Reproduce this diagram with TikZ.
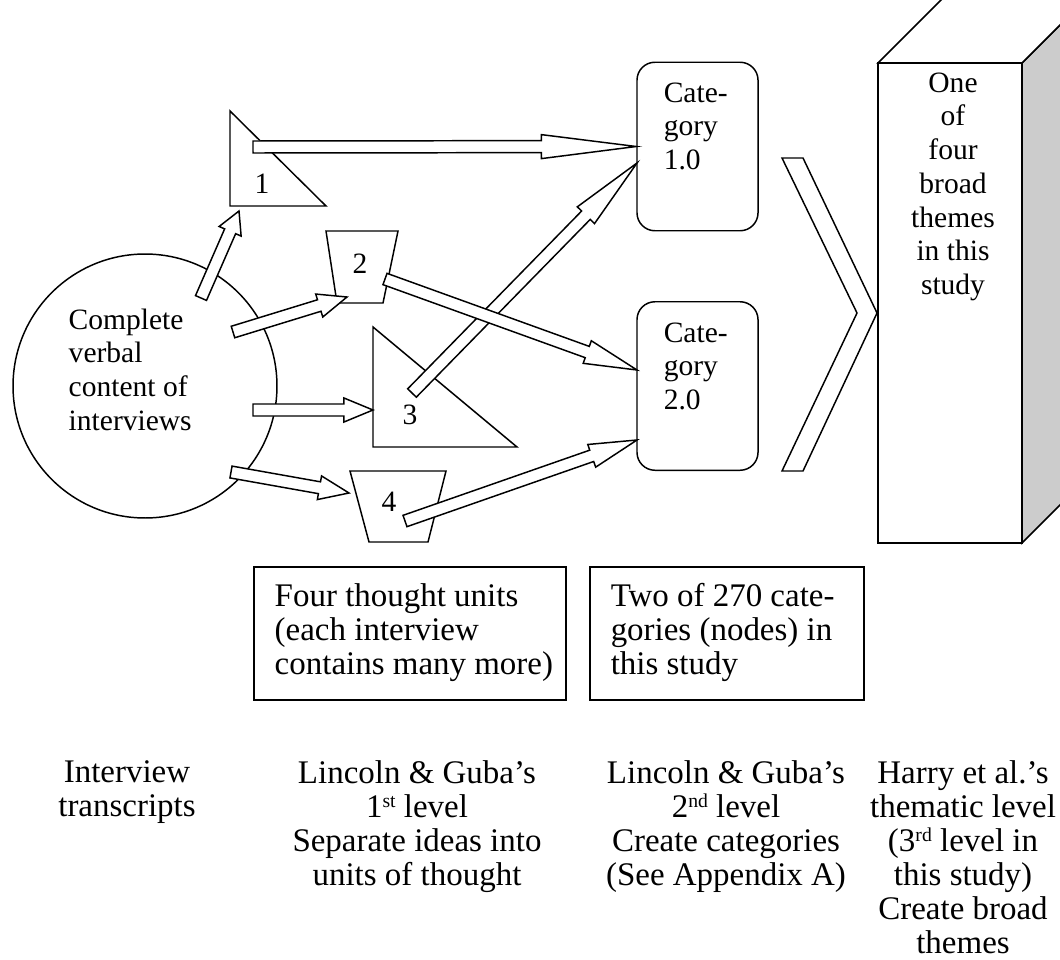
\documentclass[tikz,border=0pt]{standalone}
\usepackage{fontspec}
\setmainfont{Liberation Serif}
\usetikzlibrary{calc}

\definecolor{sideshade}{HTML}{CCCCCC}

\newcommand{\shaftw}{2.44pt}
\newcommand{\headw}{4.88pt}
% ordinal suffix, kept low so it stays clear of the line above
\newcommand{\ord}[1]{\raisebox{0.3em}{\fontsize{8}{8}\selectfont #1}}
% block arrow from tail #1 to tip #2, head length #3
\newcommand{\blockarr}[3]{%
  \coordinate (neck) at ($(#2)!#3!(#1)$);
  \draw[blockarrow] ($(#1)!\shaftw!90:(#2)$) -- ($(neck)!\shaftw!-90:(#1)$)
    -- ($(neck)!\headw!-90:(#1)$) -- (#2) -- ($(neck)!\headw!90:(#1)$)
    -- ($(neck)!\shaftw!90:(#1)$) -- ($(#1)!\shaftw!-90:(#2)$) -- cycle;
}

\begin{document}
\begin{tikzpicture}[x=0.4065pt, y=-0.4065pt, line width=0.6pt,
  outline/.style={draw, fill=white, line join=miter},
  blockarrow/.style={draw, fill=white, line join=miter},
  txt/.style={inner sep=0pt, font=\fontsize{12}{13.7}\selectfont},
  note/.style={inner sep=0pt, font=\fontsize{13.4}{13.8}\selectfont},
  catbox/.style={draw, fill=white, rounded corners=7.3pt, minimum width=49.2pt, minimum height=68.5pt}]

\useasboundingbox (0,0) rectangle (1060,959);
\clip (0,0) rectangle (1060,959);

% Interviews
\node[draw, circle, minimum size=107.3pt, inner sep=0pt] (interviews) at (145,386) {};
\node[txt, align=left, anchor=north west] (content) at (68,308) {Complete\\verbal\\content of\\interviews};

% Thought units
\draw[outline] (230,111) -- (230,206) -- (326,206) -- cycle;
\node[txt] (u1) at (262,184) {1};
\draw[outline] (326,231) -- (398,231) -- (383,303) -- (337,303) -- cycle;
\node[txt] (u2) at (360,264) {2};
\draw[outline] (373,327) -- (373,447) -- (517,447) -- cycle;
\node[txt] (u3) at (410,415) {3};
\draw[outline] (350,471) -- (446,471) -- (428,542) -- (369,542) -- cycle;
\node[txt] (u4) at (389,502) {4};

% Categories
\node[catbox] (cat1) at (697.5,146.5) {};
\node[txt, align=left, anchor=north west] (cat1text) at (663,82) {Cate-\\gory\\1.0};
\node[catbox] (cat2) at (697.5,386) {};
\node[txt, align=left, anchor=north west] (cat2text) at (663,322) {Cate-\\gory\\2.0};

% Theme block
\draw[fill=sideshade] (1022,63) -- (1092,-7) -- (1092,473) -- (1022,543) -- cycle;
\draw[fill=white] (878,63) -- (948,-7) -- (1092,-7) -- (1022,63) -- cycle;
\node[draw, fill=white, minimum width=58.5pt, minimum height=195.1pt] (theme) at (950,303) {};
\node[txt, align=center, anchor=north] (themetext) at (953,72) {One\\of\\four\\broad\\themes\\in this\\study};

% Chevron
\draw[outline] (782,158) -- (803,158) -- (877,313) -- (803,471) -- (782,471) -- (857,313) -- cycle;

% Arrow ends
\coordinate (u1-out) at (253,147);
\coordinate (u2-out) at (385,279);
\coordinate (u3-out) at (412,393);
\coordinate (u4-out) at (405,521);
\coordinate (cat1-in) at (637,163);
\coordinate (cat2-in2) at (637,370);
\coordinate (cat2-in4) at (637,440);
\coordinate (src1) at (201,298);
\coordinate (src2) at (233,332);
\coordinate (src3) at (253,410);
\coordinate (src4) at (231,472);
\coordinate (u1-in) at (239,211);
\coordinate (u2-in) at (347,297);
\coordinate (u3-in) at (373,410);
\coordinate (u4-in) at (349,493);

% Arrows
\blockarr{u1-out}{cat1.west}{38.6pt}
\blockarr{u3-out}{cat1-in}{29.7pt}
\blockarr{u2-out}{cat2-in2}{21.5pt}
\blockarr{u4-out}{cat2-in4}{19.5pt}
\blockarr{src1}{u1-in}{9pt}
\blockarr{src2}{u2-in}{11.8pt}
\blockarr{src3}{u3-in}{11.8pt}
\blockarr{src4}{u4-in}{12.2pt}

% Description boxes
\node[draw, minimum width=126.8pt, minimum height=54.1pt] (unitsbox) at (410,633.5) {};
\node[note, align=left, anchor=north west] (unitstext) at (274,583) {Four thought units\\(each interview\\contains many more)};
\node[draw, minimum width=111.4pt, minimum height=54.1pt] (catsbox) at (727,633.5) {};
\node[note, align=left, anchor=north west] (catstext) at (610,583) {Two of 270 cate-\\gories (nodes) in\\this study};

% Levels
\node[note, align=center, anchor=north] (level0) at (127,760) {Interview\\transcripts};
\node[note, align=center, anchor=north] (level1) at (417,760) {Lincoln \& Guba's\\1\ord{st} level\\Separate ideas into\\units of thought};
\node[note, align=center, anchor=north] (level2) at (726,760) {Lincoln \& Guba's\\2\ord{nd} level\\Create categories\\(See Appendix A)};
\node[note, align=center, anchor=north] (level3) at (963,760) {Harry et al.'s\\thematic level\\(3\ord{rd} level in\\this study)\\Create broad\\themes};

\end{tikzpicture}
\end{document}
